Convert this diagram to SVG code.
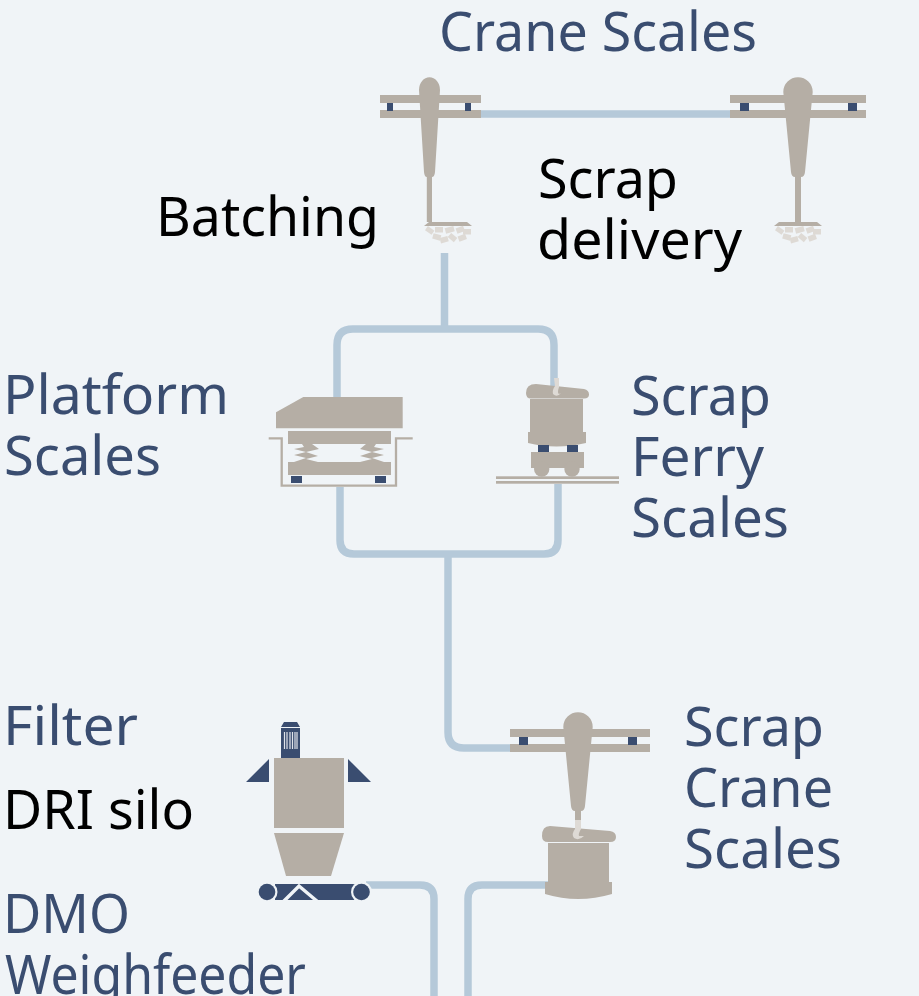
<svg xmlns="http://www.w3.org/2000/svg" width="919" height="996" viewBox="0 0 919 996">
<style>
text{font-family:"Noto Sans","Open Sans",sans-serif;font-size:54px}
.b{fill:#3a4d70}.k{fill:#000}
.g{fill:#b5aea5}.n{fill:#3a4d70}.l{fill:#dedad5}
.c{fill:none;stroke:#b5c9d9;stroke-width:7.500;stroke-linecap:butt}
</style>
<defs>
<g id="bricks" class="l">
<rect x="-22" y="2" width="8" height="5" transform="rotate(35 -18 4)"/><rect x="-13" y="1" width="8" height="5.500"/><rect x="-3" y="1" width="9" height="5.500" transform="rotate(-15 2 3)"/><rect x="8" y="1" width="8" height="5.500" transform="rotate(-20 12 3)"/><rect x="15" y="3" width="8" height="5.500"/><rect x="-15" y="8" width="8" height="5.500" transform="rotate(15 -12 10)"/><rect x="-8" y="11" width="8" height="5.500" transform="rotate(-15 -4 13)"/><rect x="1" y="9" width="8" height="5.500" transform="rotate(40 5 11)"/><rect x="10" y="9" width="8" height="5.500" transform="rotate(-20 14 11)"/>
</g>
</defs>
<rect width="919" height="996" fill="#f0f4f7"/>
<g id="connectors">
<path class="c" d="M481 114H730"/>
<path class="c" d="M444.500 253V329" stroke-linecap="round"/>
<path class="c" d="M337 397V345Q337 329 353 329H538Q554 329 554 345V388"/>
<path class="c" d="M340 487V540Q340 554 354 554H544Q558 554 558 540V484"/>
<path class="c" d="M448 554V732Q448 748 464 748H512"/>
<path class="c" d="M366 885H420Q434 885 434 899V999"/>
<path class="c" d="M468 999V899Q468 885 482 885H548"/>
</g>
<g id="crane-left">
<rect class="g" x="380" y="95" width="101" height="8"/><rect class="g" x="380" y="110" width="101" height="8"/>
<rect class="n" x="387" y="103" width="6" height="8"/><rect class="n" x="465" y="103" width="6" height="8"/>
<path class="g" d="M419 90A10.500 12.700 0 0 1 440 90L435 172Q434.500 177 432 177V222H467L472 226H424L429 222H426.800V177Q424.500 177 424 172Z"/>
<use href="#bricks" x="448" y="226"/>
</g>
<g id="crane-right">
<rect class="g" x="730" y="95" width="136" height="8"/><rect class="g" x="730" y="110" width="136" height="8"/>
<rect class="n" x="740" y="103" width="9" height="8"/><rect class="n" x="848" y="103" width="9" height="8"/>
<path class="g" d="M783.300 92A14.700 14.700 0 0 1 812.700 92L805 172Q804.500 177 801 177V222H817L822 226H774L779 222H795V177Q791.500 177 791 172Z"/>
<use href="#bricks" x="798" y="226"/>
</g>
<g id="platform-scales">
<path class="g" d="M276 412.300L303.300 397H402.700V428.300H276Z"/>
<rect class="g" x="288" y="431" width="103" height="13"/><rect class="g" x="288" y="462" width="103" height="13"/>
<path class="g" d="M302 444H312L319 449L306 452L318 456L306 459L318 462H294L306 458L294 455L306 452L294 449L304 447ZM376 444H366L360 449L372 452L360 456L372 459L360 462H384L372 458L384 455L372 452L384 449L374 447Z"/>
<rect class="n" x="291" y="476" width="11" height="7"/><rect class="n" x="375" y="476" width="11" height="7"/>
<path d="M268.700 438.300H281.700V485.700H396V438.300H412.700" fill="none" stroke="#b5aea5" stroke-width="2.300"/>
</g>
<g id="ferry-scales">
<path class="g" d="M536 384L584 389Q589 390 589 394.500Q589 398.500 584 398.500H531Q526 398.500 526 393Q526 384 536 384Z"/>
<rect class="g" x="530" y="399" width="53" height="33"/>
<path class="g" d="M528 432H586V443Q556 450 528 443Z"/>
<path class="l" d="M554 378H559V387Q557 393 559 394L561 393Q557 398 553 394Q552 390 555 386Z"/>
<rect class="n" x="538" y="445" width="11" height="7"/><rect class="n" x="567" y="445" width="11" height="7"/>
<rect class="g" x="531" y="452" width="53" height="16"/>
<circle class="g" cx="541.700" cy="469" r="7.700"/><circle class="g" cx="572" cy="469" r="7.700"/>
<rect class="g" x="496" y="476.300" width="123" height="2.700"/><rect class="g" x="496" y="481" width="123" height="2.700"/>
</g>
<g id="filter-silo">
<path class="n" d="M281 727L284 722H297L300 727Z"/>
<rect class="n" x="281" y="728" width="19" height="30"/>
<path d="M284.500 732V749M287 732V749M290 732V749M292.500 732V749M295 732V749M297 732V749" stroke="#dfe3ea" stroke-width="1.200"/>
<path class="n" d="M269 759V782H246ZM348 759V782H371Z"/>
<rect class="g" x="274" y="758" width="70" height="70"/>
<path class="g" d="M274 833H344L331 876H286Z"/>
</g>
<g id="dmo-weighfeeder">
<rect class="n" x="275" y="884" width="80" height="16"/>
<path d="M283 902L299 886L318 902" fill="none" stroke="#f0f4f7" stroke-width="3.500"/>
<circle cx="267" cy="892" r="10.500" fill="#f0f4f7"/><circle cx="361.500" cy="892" r="10.500" fill="#f0f4f7"/>
<circle class="n" cx="267" cy="892" r="8.300"/><circle class="n" cx="361.500" cy="892" r="8.300"/>
</g>
<g id="scrap-crane-scales">
<rect class="g" x="510" y="729" width="140" height="8"/><rect class="g" x="510" y="744" width="140" height="8"/>
<rect class="n" x="519" y="737" width="9" height="8"/><rect class="n" x="628" y="737" width="9" height="8"/>
<path class="g" d="M563.300 727A14.700 14.700 0 0 1 592.700 727L585 806Q584.500 811 581 811V820H575V811Q571.500 811 571 806Z"/>
<path class="g" d="M550 826L610 831Q616 832 616 837Q616 842 610 842H548Q542 842 542 836Q542 826 550 826Z"/>
<rect class="g" x="548" y="843" width="61" height="40"/>
<path class="g" d="M545 882H612V894Q578 904 545 894Z"/>
<path class="l" d="M575 820H581V829Q578 834 579 836L584 836Q579 841 574 838Q571 834 575 829Z"/>
</g>
<g id="labels">
<text class="b" x="439" y="51" textLength="318" lengthAdjust="spacingAndGlyphs">Crane Scales</text>
<text class="k" x="156" y="236" textLength="223" lengthAdjust="spacingAndGlyphs">Batching</text>
<text class="k" x="538" y="198" textLength="140" lengthAdjust="spacingAndGlyphs">Scrap</text>
<text class="k" x="537" y="259" textLength="205" lengthAdjust="spacingAndGlyphs">delivery</text>
<text class="b" x="3" y="414" textLength="226" lengthAdjust="spacingAndGlyphs">Platform</text>
<text class="b" x="4" y="475" textLength="157" lengthAdjust="spacingAndGlyphs">Scales</text>
<text class="b" x="631" y="415" textLength="140" lengthAdjust="spacingAndGlyphs">Scrap</text>
<text class="b" x="631" y="476" textLength="133" lengthAdjust="spacingAndGlyphs">Ferry</text>
<text class="b" x="631" y="537" textLength="158" lengthAdjust="spacingAndGlyphs">Scales</text>
<text class="b" x="3" y="745" textLength="135" lengthAdjust="spacingAndGlyphs">Filter</text>
<text class="k" x="3" y="829" textLength="191" lengthAdjust="spacingAndGlyphs">DRI silo</text>
<text class="b" x="3" y="933" textLength="127" lengthAdjust="spacingAndGlyphs">DMO</text>
<text class="b" x="5" y="994" textLength="301" lengthAdjust="spacingAndGlyphs">Weighfeeder</text>
<text class="b" x="684" y="746" textLength="140" lengthAdjust="spacingAndGlyphs">Scrap</text>
<text class="b" x="684" y="807" textLength="149" lengthAdjust="spacingAndGlyphs">Crane</text>
<text class="b" x="684" y="868" textLength="158" lengthAdjust="spacingAndGlyphs">Scales</text>
</g>
</svg>
